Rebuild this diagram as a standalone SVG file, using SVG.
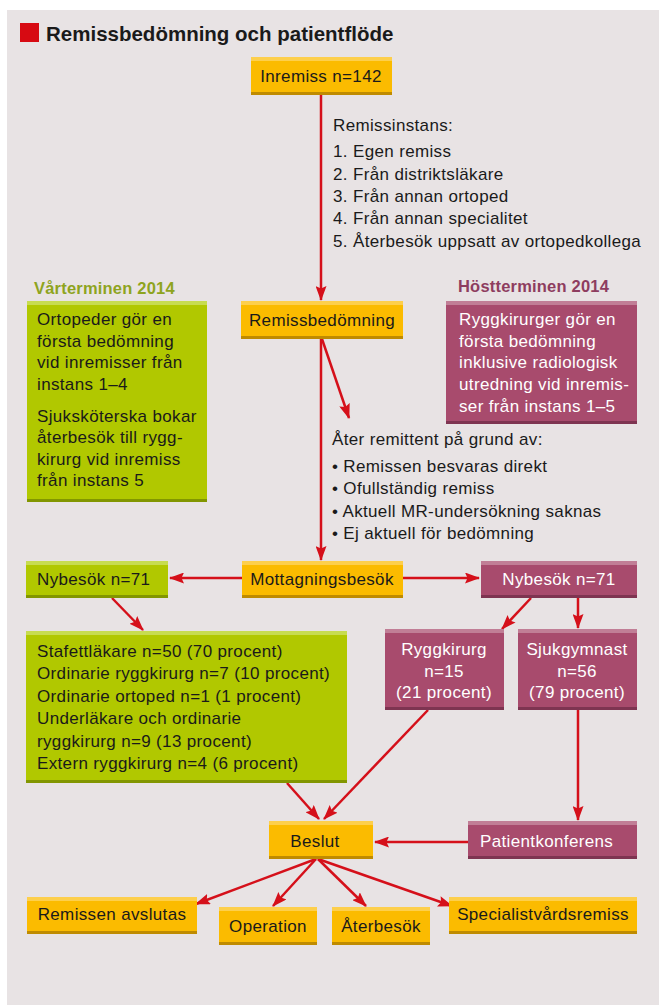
<svg xmlns="http://www.w3.org/2000/svg" width="659" height="1005" viewBox="0 0 659 1005">
<style>
text{font-family:"Liberation Sans",Arial,sans-serif;font-size:17px;letter-spacing:0.35px;fill:#1a1a1a}
.w{fill:#fff}
.t{font-size:20.5px;font-weight:bold;letter-spacing:0}
.hg{font-weight:bold;fill:#8ea41e;font-size:16.5px;letter-spacing:0.2px}
.hp{font-weight:bold;fill:#8e3d5f;font-size:16.5px;letter-spacing:0.2px}
.y{fill:#fbbb00}.yt{fill:#fdcf4c}.yb{fill:#bf8b00}
.g{fill:#b1c800}.gt{fill:#c7dc50}.gb{fill:#829600}
.p{fill:#a84b6d}.pt{fill:#c17e96}.pb{fill:#7e3451}
.c line{stroke:#d5101a;stroke-width:2.5;marker-end:url(#ah)}
.m{text-anchor:middle}
</style>
<defs>
<marker id="ah" markerUnits="userSpaceOnUse" markerWidth="15" markerHeight="11" viewBox="0 0 15 11" refX="14" refY="5.5" orient="auto">
<path d="M0,0 L15,5.5 L0,11 L2.5,5.5 z" fill="#d5101a"/>
</marker>
</defs>
<rect x="7" y="10" width="652" height="995" fill="#e8e3e4"/>
<g id="title">
<rect x="20" y="23" width="19" height="19" fill="#d70a12"/>
<text x="46" y="41" class="t">Remissbedömning och patientflöde</text>
</g>
<g class="c" id="connectors">
<line x1="321" y1="95" x2="321" y2="300"/>
<line x1="321" y1="339" x2="321" y2="560"/>
<line x1="322" y1="339" x2="349" y2="418"/>
<line x1="242" y1="578" x2="170" y2="578"/>
<line x1="403" y1="578" x2="479" y2="578"/>
<line x1="112" y1="598" x2="143" y2="630"/>
<line x1="531" y1="598" x2="502" y2="629"/>
<line x1="578" y1="598" x2="578" y2="628"/>
<line x1="578" y1="710" x2="578" y2="820"/>
<line x1="287" y1="783" x2="319" y2="819"/>
<line x1="428" y1="710" x2="324" y2="819"/>
<line x1="468" y1="842" x2="375" y2="842"/>
<line x1="316" y1="859" x2="196" y2="904"/>
<line x1="316" y1="859" x2="273" y2="906"/>
<line x1="318" y1="859" x2="366" y2="906"/>
<line x1="318" y1="859" x2="452" y2="906"/>
</g>
<g id="inremiss"><rect class="y" x="251" y="57" width="141" height="38"/><rect class="yt" x="251" y="57" width="141" height="4"/><rect class="yb" x="251" y="92" width="141" height="3"/><text x="321" y="82" class="m">Inremiss n=142</text></g>
<g id="remissinstans">
<text x="333" y="131">Remissinstans:</text>
<text x="333" y="157">1. Egen remiss</text>
<text x="333" y="180">2. Från distriktsläkare</text>
<text x="333" y="202">3. Från annan ortoped</text>
<text x="333" y="224">4. Från annan specialitet</text>
<text x="333" y="247">5. Återbesök uppsatt av ortopedkollega</text>
</g>
<g id="remissbedomning"><rect class="y" x="241" y="301" width="162" height="38"/><rect class="yt" x="241" y="301" width="162" height="4"/><rect class="yb" x="241" y="336" width="162" height="3"/><text x="322" y="326" class="m">Remissbedömning</text></g>
<g id="varterminen">
<text x="34" y="294" class="hg">Vårterminen 2014</text>
<rect class="g" x="27" y="301" width="180" height="201"/><rect class="gt" x="27" y="301" width="180" height="4"/><rect class="gb" x="27" y="499" width="180" height="3"/>
<text x="37" y="325">Ortopeder gör en</text>
<text x="37" y="347">första bedömning</text>
<text x="37" y="368">vid inremisser från</text>
<text x="37" y="390">instans 1–4</text>
<text x="37" y="422">Sjuksköterska bokar</text>
<text x="37" y="443">återbesök till rygg-</text>
<text x="37" y="465">kirurg vid inremiss</text>
<text x="37" y="486">från instans 5</text>
</g>
<g id="hostterminen">
<text x="458" y="292" class="hp">Höstterminen 2014</text>
<rect class="p" x="446" y="301" width="191" height="123"/><rect class="pt" x="446" y="301" width="191" height="4"/><rect class="pb" x="446" y="421" width="191" height="3"/>
<text x="459" y="325" class="w">Ryggkirurger gör en</text>
<text x="459" y="347" class="w">första bedömning</text>
<text x="459" y="368" class="w">inklusive radiologisk</text>
<text x="459" y="390" class="w">utredning vid inremis-</text>
<text x="459" y="412" class="w">ser från instans 1–5</text>
</g>
<g id="ater">
<text x="332" y="445">Åter remittent på grund av:</text>
<text x="332" y="472">• Remissen besvaras direkt</text>
<text x="332" y="494">• Ofullständig remiss</text>
<text x="332" y="517">• Aktuell MR-undersökning saknas</text>
<text x="332" y="539">• Ej aktuell för bedömning</text>
</g>
<g id="mottagningsbesok"><rect class="y" x="242" y="561" width="161" height="37"/><rect class="yt" x="242" y="561" width="161" height="4"/><rect class="yb" x="242" y="595" width="161" height="3"/><text x="322" y="585" class="m">Mottagningsbesök</text></g>
<g id="nybesok-g"><rect class="g" x="26" y="561" width="142" height="37"/><rect class="gt" x="26" y="561" width="142" height="4"/><rect class="gb" x="26" y="595" width="142" height="3"/><text x="37" y="585">Nybesök n=71</text></g>
<g id="nybesok-p"><rect class="p" x="481" y="561" width="156" height="37"/><rect class="pt" x="481" y="561" width="156" height="4"/><rect class="pb" x="481" y="595" width="156" height="3"/><text x="559" y="585" class="m w">Nybesök n=71</text></g>
<g id="lakare">
<rect class="g" x="26" y="631" width="321" height="152"/><rect class="gt" x="26" y="631" width="321" height="4"/><rect class="gb" x="26" y="780" width="321" height="3"/>
<text x="37" y="657">Stafettläkare n=50 (70 procent)</text>
<text x="37" y="679">Ordinarie ryggkirurg n=7 (10 procent)</text>
<text x="37" y="702">Ordinarie ortoped n=1 (1 procent)</text>
<text x="37" y="724">Underläkare och ordinarie</text>
<text x="37" y="747">ryggkirurg n=9 (13 procent)</text>
<text x="37" y="769">Extern ryggkirurg n=4 (6 procent)</text>
</g>
<g id="ryggkirurg"><rect class="p" x="385" y="629" width="119" height="81"/><rect class="pt" x="385" y="629" width="119" height="4"/><rect class="pb" x="385" y="707" width="119" height="3"/>
<text x="444" y="655" class="m w">Ryggkirurg</text><text x="444" y="677" class="m w">n=15</text><text x="444" y="698" class="m w">(21 procent)</text></g>
<g id="sjukgymnast"><rect class="p" x="518" y="629" width="119" height="81"/><rect class="pt" x="518" y="629" width="119" height="4"/><rect class="pb" x="518" y="707" width="119" height="3"/>
<text x="577" y="655" class="m w">Sjukgymnast</text><text x="577" y="677" class="m w">n=56</text><text x="577" y="698" class="m w">(79 procent)</text></g>
<g id="beslut"><rect class="y" x="269" y="821" width="104" height="38"/><rect class="yt" x="269" y="821" width="104" height="4"/><rect class="yb" x="269" y="856" width="104" height="3"/><text x="315" y="847" class="m">Beslut</text></g>
<g id="patientkonferens"><rect class="p" x="468" y="821" width="169" height="38"/><rect class="pt" x="468" y="821" width="169" height="4"/><rect class="pb" x="468" y="856" width="169" height="3"/><text x="480" y="847" class="w">Patientkonferens</text></g>
<g id="avslutas"><rect class="y" x="27" y="897" width="170" height="37"/><rect class="yt" x="27" y="897" width="170" height="4"/><rect class="yb" x="27" y="931" width="170" height="3"/><text x="112" y="920" class="m">Remissen avslutas</text></g>
<g id="operation"><rect class="y" x="219" y="907" width="98" height="38"/><rect class="yt" x="219" y="907" width="98" height="4"/><rect class="yb" x="219" y="942" width="98" height="3"/><text x="268" y="932" class="m">Operation</text></g>
<g id="aterbesok"><rect class="y" x="332" y="907" width="98" height="38"/><rect class="yt" x="332" y="907" width="98" height="4"/><rect class="yb" x="332" y="942" width="98" height="3"/><text x="381" y="932" class="m">Återbesök</text></g>
<g id="specialist"><rect class="y" x="449" y="897" width="188" height="37"/><rect class="yt" x="449" y="897" width="188" height="4"/><rect class="yb" x="449" y="931" width="188" height="3"/><text x="543" y="920" class="m">Specialistvårdsremiss</text></g>
</svg>
